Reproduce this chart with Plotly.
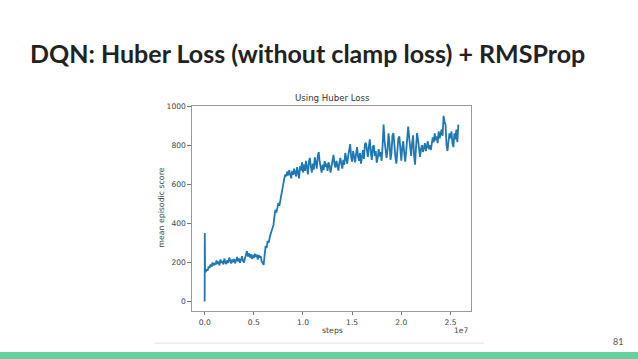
import plotly.graph_objects as go

# ---- data (steps in units of 1e7) ----
spike_steps = [0.0, 0.001, 0.004]
spike_scores = [0, 350, 155]
grid_step = 0.01
scores = [
    150, 165, 158, 180, 172, 190, 178, 200, 185, 196,
    188, 210, 192, 205, 185, 215, 198, 208, 190, 220,
    200, 192, 212, 198, 225, 205, 195, 215, 202, 218,
    196, 210, 228, 205, 220, 198, 215, 232, 208, 200,
    222, 240, 258, 230, 248, 225, 242, 218, 238, 222,
    245, 228, 240, 215, 238, 225, 232, 205, 195, 188,
    240, 285, 275, 310, 300, 335, 345, 360, 385, 392,
    440, 470, 455, 495, 505, 490, 520, 555, 570, 600,
    630, 650, 640, 665, 645, 672, 655, 630, 668, 648,
    680, 655, 640, 688, 665, 630, 692, 670, 712, 660,
    700, 668, 720, 682, 650, 715, 735, 690, 660, 705,
    675, 738, 700, 680, 742, 765, 715, 690, 660, 700,
    672, 718, 690, 705, 668, 712, 695, 660, 700, 725,
    750, 705, 685, 720, 695, 670, 710, 735, 705, 680,
    725, 700, 760, 730, 705, 745, 790, 805, 740, 715,
    770, 735, 712, 755, 790, 742, 720, 760, 705, 740,
    775, 730, 805, 812, 760, 740, 795, 830, 760, 725,
    790, 800, 745, 770, 710, 735, 780, 742, 765, 720,
    800, 905, 820, 760, 735, 775, 860, 810, 725, 760,
    850, 862, 780, 740, 705, 770, 835, 845, 760, 720,
    790, 820, 760, 715, 770, 860, 895, 840, 770, 745,
    810, 850, 745, 700, 790, 862, 830, 770, 740, 780,
    800, 765, 785, 810, 770, 795, 820, 780, 800, 775,
    810, 840, 815, 860, 825, 845, 810, 870, 835, 855,
    880, 848, 950, 920, 905, 800, 770, 820, 860, 835,
    870, 810, 790, 860, 830, 880, 815, 905,
]
steps = spike_steps + [round(grid_step * (i + 1), 3) for i in range(len(scores))]
values = spike_scores + scores

x_ticks = [0.0, 0.5, 1.0, 1.5, 2.0, 2.5]
y_ticks = [0, 200, 400, 600, 800, 1000]

W, H = 638, 359
def px(x):
    return x / W
def py(y):
    return 1 - y / H

fig = go.Figure()
fig.add_trace(go.Scatter(x=steps, y=values, mode="lines",
                         line=dict(color="#1f77b4", width=1.8),
                         hoverinfo="skip", showlegend=False))

axis_font = dict(family="DejaVu Sans", size=7.6, color="#444444")
fig.update_layout(
    width=W, height=H,
    margin=dict(l=0, r=0, t=0, b=0),
    paper_bgcolor="white", plot_bgcolor="white",
    xaxis=dict(domain=[px(192), px(471)], range=[-0.129, 2.709],
               tickvals=x_ticks, tickformat=".1f", ticks="outside",
               ticklen=3.5, tickcolor="#777777", tickfont=axis_font,
               ticklabelstandoff=1,
               showgrid=False, zeroline=False, showline=True,
               linecolor="#999999", linewidth=1.2, mirror=True,
               anchor="y"),
    yaxis=dict(domain=[py(310), py(103)], range=[-46, 1001],
               tickvals=y_ticks, ticks="outside", ticklen=3.5,
               tickcolor="#777777", tickfont=axis_font,
               showgrid=False, zeroline=False, showline=True,
               linecolor="#999999", linewidth=1.2, mirror=True,
               anchor="x"),
    shapes=[
        dict(type="rect", xref="paper", yref="paper", x0=0, x1=1,
             y0=0, y1=py(352), fillcolor="#66D19E", line=dict(width=0)),
        dict(type="line", xref="paper", yref="paper", x0=px(154), x1=px(484),
             y0=py(343), y1=py(343), line=dict(color="#EBEBEB", width=1.5)),
    ],
    annotations=[
        dict(text="<b>DQN: Huber Loss (without clamp loss) + RMSProp</b>",
             x=px(28), y=py(50), xref="paper", yref="paper",
             xanchor="left", yanchor="middle", showarrow=False,
             font=dict(family="Lato", size=25, color="#222222")),
        dict(text="Using Huber Loss", x=px(332), y=py(95), xref="paper",
             yref="paper", xanchor="center", yanchor="middle",
             showarrow=False,
             font=dict(family="DejaVu Sans", size=8.6, color="#333333")),
        dict(text="steps", x=px(332), y=py(330), xref="paper", yref="paper",
             xanchor="center", yanchor="middle", showarrow=False,
             font=dict(family="DejaVu Sans", size=7.8, color="#444444")),
        dict(text="1e7", x=px(471), y=py(330), xref="paper", yref="paper",
             xanchor="right", yanchor="middle", showarrow=False,
             font=dict(family="DejaVu Sans", size=7.6, color="#444444")),
        dict(text="mean episodic score", x=px(162), y=py(206), xref="paper",
             yref="paper", xanchor="center", yanchor="middle",
             showarrow=False, textangle=-90,
             font=dict(family="DejaVu Sans", size=7.8, color="#444444")),
        dict(text="81", x=px(618), y=py(341), xref="paper", yref="paper",
             xanchor="center", yanchor="middle", showarrow=False,
             font=dict(family="Lato", size=9, color="#555555")),
    ],
)

fig.write_html("out.html",
               config={"displayModeBar": False},
               post_script="document.body.style.margin='0';"
                           "document.body.style.overflow='hidden';")
